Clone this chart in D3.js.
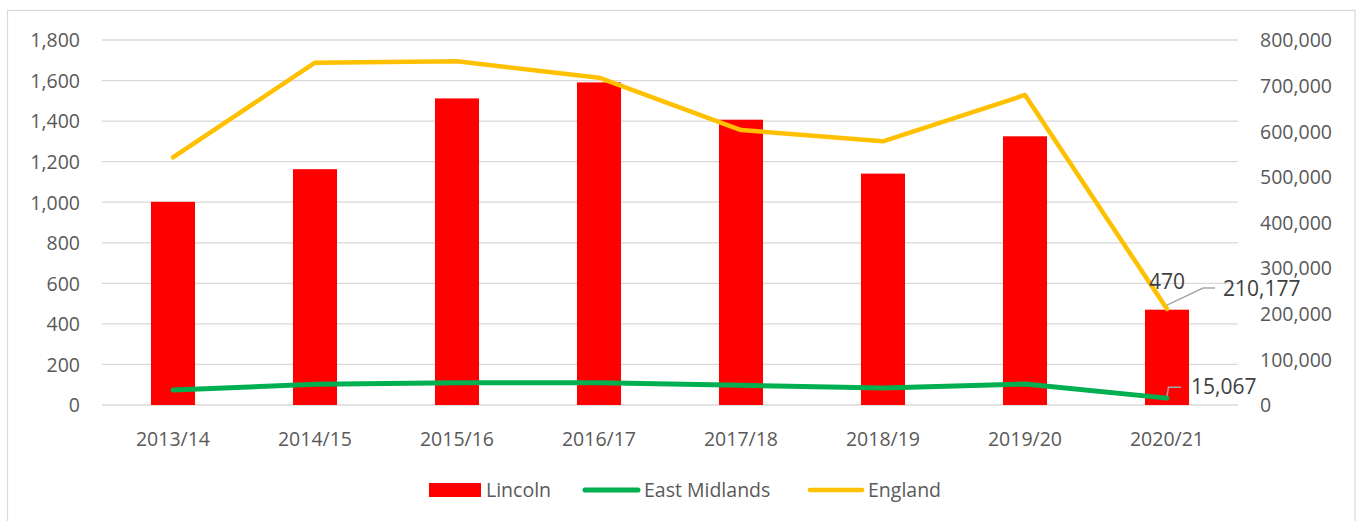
<!DOCTYPE html>
<html><head><meta charset="utf-8">
<script src="https://cdn.jsdelivr.net/npm/d3@7"></script>
<style>body{margin:0;background:#fff;} svg{display:block;font-family:"Open Sans",sans-serif;}</style>
</head><body>
<div id="chart"></div>
<script>
const categories = ["2013/14","2014/15","2015/16","2016/17","2017/18","2018/19","2019/20","2020/21"];
const lincoln = [1002, 1163, 1512, 1591, 1407, 1141, 1325, 470];
const eastMidlands = [32900, 45500, 48900, 48900, 43200, 37300, 46000, 15067];
const england = [542900, 750200, 753300, 717400, 602700, 578000, 679500, 210177];
const leftTicks = [0,200,400,600,800,1000,1200,1400,1600,1800];
const rightTicks = [0,100000,200000,300000,400000,500000,600000,700000,800000];

const W = 1357, H = 521;
const svg = d3.select("#chart").append("svg").attr("width", W).attr("height", H);
svg.append("rect").attr("x",7.5).attr("y",10.5).attr("width",1347.5).attr("height",520)
  .attr("fill","#fff").attr("stroke","#d9d9d9").attr("stroke-width",1.2);

const x = d3.scaleBand().domain(categories).range([102, 1238]).padding(0);
const yL = d3.scaleLinear().domain([0,1800]).range([405, 40]);
const yR = d3.scaleLinear().domain([0,800000]).range([405, 40]);
const fmt = d3.format(",");
const textCol = "#595959";

// gridlines
svg.append("g").selectAll("line").data(leftTicks).join("line")
  .attr("x1",102).attr("x2",1238).attr("y1",d=>yL(d)).attr("y2",d=>yL(d))
  .attr("stroke","#d9d9d9").attr("stroke-width",1.3);

// left axis
const gL = svg.append("g").attr("transform","translate(80,0)")
  .call(d3.axisLeft(yL).tickValues(leftTicks).tickFormat(fmt).tickSize(0).tickPadding(0));
gL.select(".domain").remove();
gL.selectAll("text").attr("fill",textCol).style("font-size","19.5px").style("font-family","Open Sans").attr("dy","0.35em");

// right axis
const gR = svg.append("g").attr("transform","translate(1260,0)")
  .call(d3.axisRight(yR).tickValues(rightTicks).tickFormat(fmt).tickSize(0).tickPadding(0));
gR.select(".domain").remove();
gR.selectAll("text").attr("fill",textCol).style("font-size","19.5px").style("font-family","Open Sans").attr("dy","0.35em");

// x axis
const gX = svg.append("g").attr("transform","translate(0,439)")
  .call(d3.axisBottom(x).tickSize(0).tickPadding(0));
gX.select(".domain").remove();
gX.selectAll("text").attr("fill",textCol).style("font-size","19.5px").style("font-family","Open Sans").attr("dy","0.35em");

// bars
const bw = x.bandwidth()*0.31;
svg.append("g").selectAll("rect").data(lincoln).join("rect")
  .attr("x",(d,i)=>x(categories[i])+x.bandwidth()/2-bw/2)
  .attr("y",d=>yL(d)).attr("width",bw).attr("height",d=>yL(0)-yL(d))
  .attr("fill","#ff0000");

const cx = i => x(categories[i]) + x.bandwidth()/2;
const line = d3.line().x((d,i)=>cx(i)).y(d=>yR(d));
svg.append("path").datum(eastMidlands).attr("d",line).attr("fill","none")
  .attr("stroke","#00b050").attr("stroke-width",5).attr("stroke-linecap","round").attr("stroke-linejoin","round");
svg.append("path").datum(england).attr("d",line).attr("fill","none")
  .attr("stroke","#ffc000").attr("stroke-width",4.5).attr("stroke-linecap","round").attr("stroke-linejoin","round");

// data labels
const last = categories.length-1;
const lblCol = "#404040";
svg.append("text").attr("x",cx(last)).attr("y",yL(lincoln[last])-28).attr("text-anchor","middle")
  .attr("dy","0.35em").attr("fill",lblCol).style("font-size","21px").text(fmt(lincoln[last]));
// England leader
const ex = cx(last), ey = yR(england[last]);
svg.append("polyline").attr("points",`${ex},${ey-4} ${ex+36},${ey-21} ${ex+48},${ey-21}`)
  .attr("fill","none").attr("stroke","#a6a6a6").attr("stroke-width",1.5);
svg.append("text").attr("x",ex+56).attr("y",ey-20).attr("dy","0.35em").attr("fill",lblCol)
  .style("font-size","21px").text(fmt(england[last]));
// East Midlands leader
const mx = cx(last), my = yR(eastMidlands[last]);
svg.append("polyline").attr("points",`${mx},${my-2} ${mx+1.5},${my-11} ${mx+14},${my-11}`)
  .attr("fill","none").attr("stroke","#a6a6a6").attr("stroke-width",1.5);
svg.append("text").attr("x",mx+24).attr("y",my-11).attr("dy","0.35em").attr("fill",lblCol)
  .style("font-size","21px").text(fmt(eastMidlands[last]));

// legend
const lg = svg.append("g");
lg.append("rect").attr("x",429).attr("y",483).attr("width",52).attr("height",14).attr("fill","#ff0000");
lg.append("text").attr("x",486).attr("y",490).attr("dy","0.35em").attr("fill",textCol).style("font-size","19.5px").text("Lincoln");
lg.append("line").attr("x1",585).attr("x2",638).attr("y1",490).attr("y2",490)
  .attr("stroke","#00b050").attr("stroke-width",5).attr("stroke-linecap","round");
lg.append("text").attr("x",644).attr("y",490).attr("dy","0.35em").attr("fill",textCol).style("font-size","19.5px").text("East Midlands");
lg.append("line").attr("x1",810).attr("x2",862).attr("y1",490).attr("y2",490)
  .attr("stroke","#ffc000").attr("stroke-width",4.5).attr("stroke-linecap","round");
lg.append("text").attr("x",868).attr("y",490).attr("dy","0.35em").attr("fill",textCol).style("font-size","19.5px").text("England");
</script>
</body></html>
